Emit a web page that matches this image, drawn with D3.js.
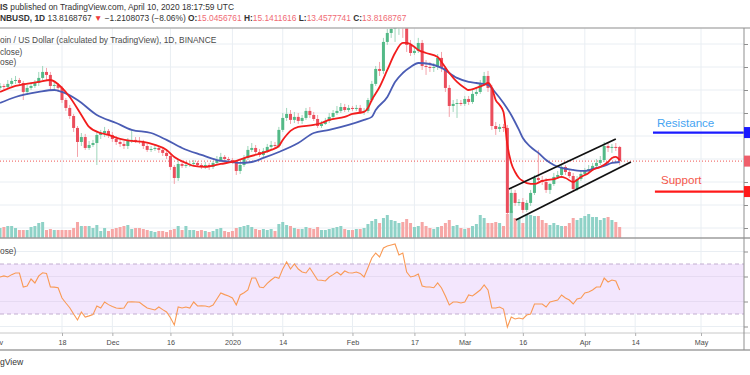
<!DOCTYPE html>
<html>
<head>
<meta charset="utf-8">
<script src="https://cdn.jsdelivr.net/npm/d3@7"></script>
<style>
  html, body { margin: 0; padding: 0; background: #fff; overflow: hidden; }
  svg { display: block; }
</style>
</head>
<body>
<svg id="chart" width="750" height="375"></svg>
<script>
// daily candles BNBUSD, day 0 = 2019-11-01
const open = [19.83,20.18,20.35,20.26,20.53,20.79,20.87,20.61,19.83,20.18,
  20.35,20.61,21.05,21.57,21.31,20.35,20.44,20.18,19.13,18.44,
  17.74,16.70,15.48,15.91,14.96,15.22,15.39,16.09,16.26,16.44,
  16.09,15.74,15.48,15.31,15.13,15.57,15.66,15.57,15.48,15.13,
  14.79,14.87,14.96,14.79,14.53,14.26,13.31,12.35,13.57,13.40,
  13.48,13.57,13.66,13.48,13.31,13.48,13.31,13.66,13.91,14.18,
  14.00,13.91,13.74,12.96,13.48,14.09,14.79,14.96,14.61,14.35,
  14.70,15.05,15.22,15.13,16.53,17.57,17.92,17.40,17.66,17.31,
  17.57,18.18,17.83,17.48,16.87,17.05,17.31,17.66,18.00,18.18,
  18.52,18.26,18.44,18.35,18.44,18.09,18.18,19.13,20.53,21.83,
  21.66,24.18,24.96,25.31,25.92,26.26,25.66,23.92,23.22,23.40,
  24.09,22.09,22.00,21.92,22.00,22.79,21.92,20.18,18.61,18.79,
  18.87,18.79,19.22,18.96,19.66,19.83,20.53,21.22,20.18,16.87,
  16.61,16.79,16.70,9.31,11.05,10.18,10.26,9.57,10.18,11.05,
  12.35,12.17,12.00,11.31,11.83,12.44,12.61,13.31,12.87,12.52,
  11.39,12.26,12.70,12.96,13.13,13.40,13.66,13.91,15.13,14.96,
  15.05,15.0456761];
const high = [20.44,20.61,20.53,20.87,21.05,21.22,21.05,20.79,20.44,20.70,
  20.87,21.57,22.09,21.92,21.57,20.70,20.61,20.35,19.31,18.70,
  17.92,16.87,16.26,16.18,15.57,15.66,16.35,16.53,16.79,16.61,
  16.35,16.00,15.66,15.57,15.83,16.53,15.91,15.91,15.66,15.31,
  15.13,15.22,15.13,14.96,14.70,14.44,13.48,13.91,13.74,13.74,
  13.83,13.91,13.83,13.66,13.74,13.66,13.83,14.26,14.53,14.35,
  14.18,14.09,13.91,13.66,14.35,15.13,15.39,15.22,14.87,14.96,
  15.31,15.57,15.48,16.79,18.00,18.44,18.26,18.09,18.00,17.83,
  18.44,18.52,18.09,17.83,17.31,17.57,18.00,18.26,18.61,18.87,
  18.79,18.70,18.61,18.70,18.70,18.44,19.31,20.79,22.09,22.44,
  24.53,25.31,26.09,26.79,27.13,26.96,26.53,24.35,23.83,24.53,
  24.35,22.61,22.44,22.35,23.13,23.31,22.09,20.44,19.13,19.22,
  19.13,19.48,19.48,20.00,20.18,20.87,21.57,21.66,20.44,17.22,
  17.05,17.05,16.96,11.48,11.31,10.52,10.61,10.44,11.31,12.61,
  14.79,12.52,12.35,11.91,12.79,12.96,13.57,13.48,13.13,12.79,
  12.52,12.96,13.22,13.48,13.66,14.00,14.26,15.48,15.48,15.31,
  15.39,15.1411616];
const low = [19.57,20.00,20.00,20.09,20.35,20.53,20.35,19.13,19.57,20.00,
  20.18,20.35,20.87,20.87,20.00,20.09,19.83,18.87,18.18,17.48,
  16.35,14.18,15.13,14.79,14.79,15.05,13.48,15.74,15.91,15.83,
  15.48,15.22,15.05,14.87,14.87,15.39,15.39,15.31,14.87,14.61,
  14.61,14.70,14.53,14.26,14.00,13.05,11.83,12.09,13.22,13.22,
  13.31,13.40,13.31,13.13,13.13,13.05,13.13,13.57,13.74,13.83,
  13.74,13.57,12.61,12.70,13.31,13.91,14.61,14.44,14.18,14.18,
  14.53,14.87,14.96,14.96,16.35,17.31,17.05,17.13,17.05,17.05,
  17.40,17.57,17.31,16.70,16.70,16.96,17.13,17.48,17.83,18.00,
  18.09,18.09,18.18,18.18,17.92,17.83,18.00,18.96,20.35,21.22,
  21.40,23.92,24.53,24.18,24.79,24.53,23.31,22.96,23.05,23.22,
  21.74,21.31,21.57,21.57,21.74,21.57,19.83,17.66,18.09,17.57,
  18.61,18.61,18.70,18.79,19.48,19.66,20.35,19.83,16.53,16.09,
  16.35,16.35,8.87,8.52,9.92,9.92,9.31,9.39,9.92,10.87,
  11.91,11.74,11.05,10.96,11.66,12.26,12.35,12.61,12.35,11.13,
  11.22,12.09,12.52,12.79,12.96,13.22,13.48,13.74,14.61,14.53,
  14.70,13.4577741];
const close = [20.18,20.35,20.26,20.53,20.79,20.87,20.61,19.83,20.18,20.35,
  20.61,21.05,21.57,21.31,20.35,20.44,20.18,19.13,18.44,17.74,
  16.70,15.48,15.91,14.96,15.22,15.39,16.09,16.26,16.44,16.09,
  15.74,15.48,15.31,15.13,15.57,15.66,15.57,15.48,15.13,14.79,
  14.87,14.96,14.79,14.53,14.26,13.31,12.35,13.57,13.40,13.48,
  13.57,13.66,13.48,13.31,13.48,13.31,13.66,13.91,14.18,14.00,
  13.91,13.74,12.96,13.48,14.09,14.79,14.96,14.61,14.35,14.70,
  15.05,15.22,15.13,16.53,17.57,17.92,17.40,17.66,17.31,17.57,
  18.18,17.83,17.48,16.87,17.05,17.31,17.66,18.00,18.18,18.52,
  18.26,18.44,18.35,18.44,18.09,18.18,19.13,20.53,21.83,21.66,
  24.18,24.96,25.31,25.92,26.26,25.66,23.92,23.22,23.40,24.09,
  22.09,22.00,21.92,22.00,22.79,21.92,20.18,18.61,18.79,18.87,
  18.79,19.22,18.96,19.66,19.83,20.53,21.22,20.18,16.87,16.61,
  16.79,16.70,9.31,11.05,10.18,10.26,9.57,10.18,11.05,12.35,
  12.17,12.00,11.31,11.83,12.44,12.61,13.31,12.87,12.52,11.39,
  12.26,12.70,12.96,13.13,13.40,13.66,13.91,15.13,14.96,15.05,
  14.96,13.8168767];
const volume = [9,10,11,12,12,10,8,8,8,11,
  12,15,16,8,9,8,8,8,8,8,
  10,16,12,12,12,10,13,7,10,7,
  9,10,11,12,13,9,10,10,9,8,
  7,6,7,7,6,8,9,12,8,12,
  8,8,7,8,7,6,7,9,10,7,
  6,7,10,11,12,13,11,9,8,9,
  8,9,7,14,16,13,12,10,9,9,
  11,10,9,11,8,8,9,10,11,12,
  9,8,8,9,9,10,14,17,19,15,
  20,23,18,17,15,16,19,15,11,12,
  16,12,10,9,11,12,15,18,12,13,
  10,9,10,12,14,23,20,15,15,16,
  15,12,24,27,20,20,15,23,23,22,
  22,18,15,13,15,13,12,12,15,20,
  18,20,22,24,21,21,18,20,21,18,
  16,11];
const rsi = [59,59.6,60.5,59.6,61.5,62.8,62.8,51.6,52.4,58,
  54.8,60.5,63,62.5,51.6,51.5,51,42.8,38.8,35,
  30,25.2,31.6,27.6,28.5,29.5,36.4,34.8,39.6,37.5,
  36,34.8,34.5,34.8,39.6,39.8,39.6,39.4,37,34.8,
  34,33.2,35.6,33.5,31.6,27,21.2,35.6,34.8,35.6,
  34.8,39.6,36.4,36.5,36.4,35.6,37.2,42,46.8,45.5,
  44.4,42.8,37.2,45.2,47,49.2,58.8,58.8,51.6,51,
  54.5,57.2,59.6,58.5,66,71.6,66,70,66,63.6,
  62.8,66.8,62,57.2,57,56.4,59.6,61.5,63.6,61.2,
  64.4,63,62.8,63.6,62.5,59.6,67,74.8,78.8,75.6,
  82.8,84.4,85.2,86,77.2,78.8,63.6,59.6,60.4,62,
  52.4,51.6,51.6,51,54.8,50.8,44.4,37.2,39.6,39.6,
  38.8,39.6,45.2,44.4,46.8,49.2,53.2,49.2,34.8,34.8,
  35.6,34,19.6,27.6,26,26.8,26,29.2,30,38,
  38,38,35.6,39.6,40.4,41.2,45.2,42.8,41.2,38,
  42,42.8,46.8,47.6,49.2,51.6,51.6,58.8,55.6,57.2,
  56.4,49.2];

// moving averages (day index, price)
const emaFastDays = [1,5,11,14,17,19,22,24,27,29,32,35,38,41,44,46,49,51,54,58,61,65,71,73,74,75,76,78,82,84,86,90,92,95,96,97,99,101,103,105,106,108,109,111,114,115,117,119,121,122,124,126,127,128,129,130,131,132,133,134,135,136,137,139,141,142,144,146,147,149,151,153,154,156,158,159,160,161];
const emaFastValues = [19.83,20.35,20.70,20.87,20.18,19.39,17.83,16.79,16.26,16.09,15.74,15.57,15.48,15.22,14.79,14.18,13.66,13.40,13.31,13.57,13.74,14.18,14.79,15.13,15.66,16.09,16.44,16.79,16.96,17.13,17.40,17.66,17.92,18.09,18.44,19.13,20.26,21.74,23.22,24.09,24.09,23.74,23.48,23.22,22.87,22.44,21.48,20.70,20.18,20.00,20.18,20.44,20.61,20.18,19.13,18.70,18.09,15.22,13.66,12.87,12.35,12.09,11.91,11.83,12.09,12.17,12.26,12.44,12.35,12.00,12.44,12.79,13.05,13.31,13.74,14.09,14.18,13.91];
const emaSlowDays = [1,5,11,15,17,21,26,31,35,40,44,48,53,57,61,63,66,69,73,78,82,86,91,95,97,98,101,103,105,107,109,112,115,119,122,124,127,129,131,133,135,136,138,140,142,144,146,149,152,154,157,159,161];
const emaSlowValues = [18.87,19.39,19.83,20.00,19.83,19.13,17.83,17.13,16.53,16.26,15.66,14.96,14.35,13.91,13.74,13.66,13.74,14.09,14.61,15.39,16.26,16.53,16.96,17.40,17.66,18.26,19.39,20.70,21.48,22.00,22.35,22.26,21.92,21.05,20.70,20.61,20.44,19.74,18.87,17.83,16.53,15.83,15.05,14.53,13.91,13.48,13.22,13.05,12.96,13.13,13.40,13.66,13.74];

// drawings (day index, price)
const channelUpper = [[132.4, 11.39], [160.0, 15.74]];
const channelLower = [[134.2, 8.70], [163.9, 13.74]];
const resistanceLevel = 16.30, resistanceFrom = 169.6;
const supportLevel = 11.17, supportFrom = 170.1;

const priceTicks = [8, 10, 12, 14, 16, 18, 20, 22, 24];
const rsiTicks = [20, 40, 60, 80];
const rsiBand = [30, 70];
const timeTickDates = ["2019-11-01","2019-11-18","2019-12-01","2019-12-16","2020-01-01","2020-01-14","2020-02-01","2020-02-17","2020-03-01","2020-03-16","2020-04-01","2020-04-14","2020-05-01"];
const timeTickLabels = ["Nov","18","Dec","16","2020","14","Feb","17","Mar","16","Apr","14","May"];

const day0 = Date.UTC(2019, 10, 1);
const dayDate = d => new Date(day0 + d * 864e5);

const axisX = 744;
const mainTop = 28, mainBottom = 238, rsiBottom = 333, timeBottom = 350;
const upColor = "#53b987", downColor = "#eb4d5c";
const gridColor = "#e9eef3";
const font = "'Liberation Sans', Arial, sans-serif";

const svg = d3.select("#chart");

const x = d3.scaleUtc()
    .domain([new Date(Date.UTC(2019, 10, 18)), new Date(Date.UTC(2020, 4, 1))])
    .range([62, 701]);
const y = d3.scaleLinear().domain([8, 24]).range([228, 44]);
const yVol = d3.scaleLinear().domain([0, 27]).range([mainBottom, mainBottom - 27]);
const yRsi = d3.scaleLinear().domain([30, 70]).range([314, 264]);

const defs = svg.append("defs");
defs.append("clipPath").attr("id", "clipMain")
    .append("rect").attr("x", 0).attr("y", mainTop).attr("width", axisX).attr("height", mainBottom - mainTop);
defs.append("clipPath").attr("id", "clipRsi")
    .append("rect").attr("x", 0).attr("y", mainBottom).attr("width", axisX).attr("height", rsiBottom - mainBottom);

// grid
const grid = svg.append("g");
timeTickDates.forEach(d => {
    grid.append("line")
        .attr("x1", x(new Date(d))).attr("x2", x(new Date(d)))
        .attr("y1", mainTop).attr("y2", rsiBottom)
        .attr("stroke", gridColor).attr("stroke-width", 1);
});
priceTicks.forEach(p => {
    grid.append("line").attr("x1", 0).attr("x2", axisX)
        .attr("y1", y(p)).attr("y2", y(p))
        .attr("stroke", gridColor).attr("stroke-width", 1);
});

// RSI background band
svg.append("rect")
    .attr("x", 0).attr("width", axisX)
    .attr("y", yRsi(rsiBand[1])).attr("height", yRsi(rsiBand[0]) - yRsi(rsiBand[1]))
    .attr("fill", "#f3e6fd");
rsiTicks.forEach(r => {
    svg.append("line").attr("x1", 0).attr("x2", axisX)
        .attr("y1", yRsi(r)).attr("y2", yRsi(r))
        .attr("stroke", r === 40 || r === 60 ? "#e6daf2" : gridColor).attr("stroke-width", 1);
});
rsiBand.forEach(r => {
    svg.append("line").attr("x1", 0).attr("x2", axisX)
        .attr("y1", yRsi(r)).attr("y2", yRsi(r))
        .attr("stroke", "#c2aed0").attr("stroke-width", 1)
        .attr("stroke-dasharray", "4,3");
});

const candles = close.map((c, i) => ({
    date: dayDate(i), o: open[i], h: high[i], l: low[i], c: c, v: volume[i], up: c >= open[i]
}));

const main = svg.append("g").attr("clip-path", "url(#clipMain)");

// volume
main.append("g").selectAll("rect")
    .data(candles)
    .join("rect")
    .attr("x", d => x(d.date) - 1.5)
    .attr("width", 3)
    .attr("y", d => yVol(d.v))
    .attr("height", d => yVol(0) - yVol(d.v))
    .attr("fill", d => d.up ? "#8fd2c7" : "#f6a7a6");

// last price line
const lastClose = close[close.length - 1];
main.append("line")
    .attr("x1", 0).attr("x2", axisX)
    .attr("y1", y(lastClose)).attr("y2", y(lastClose))
    .attr("stroke", "#ef5350").attr("stroke-width", 1)
    .attr("stroke-dasharray", "1,2");

// candles
const cg = main.append("g");
cg.selectAll("line")
    .data(candles)
    .join("line")
    .attr("x1", d => x(d.date)).attr("x2", d => x(d.date))
    .attr("y1", d => y(d.h)).attr("y2", d => y(d.l))
    .attr("stroke", d => d.up ? "#9fd6bb" : "#f4a3ab")
    .attr("stroke-width", 1);
cg.selectAll("rect")
    .data(candles)
    .join("rect")
    .attr("x", d => x(d.date) - 1.5)
    .attr("width", 3)
    .attr("y", d => y(Math.max(d.o, d.c)))
    .attr("height", d => Math.max(1, Math.abs(y(d.o) - y(d.c))))
    .attr("fill", d => d.up ? upColor : downColor);

// moving averages
const maLine = d3.line()
    .x(d => x(dayDate(d[0])))
    .y(d => y(d[1]))
    .curve(d3.curveMonotoneX);
main.append("path")
    .datum(emaSlowDays.map((d, i) => [d, emaSlowValues[i]]))
    .attr("fill", "none").attr("stroke", "#4a5cb4").attr("stroke-width", 1.8)
    .attr("d", maLine);
main.append("path")
    .datum(emaFastDays.map((d, i) => [d, emaFastValues[i]]))
    .attr("fill", "none").attr("stroke", "#f21d1d").attr("stroke-width", 1.8)
    .attr("d", maLine);

// channel drawings
const straight = d3.line().x(d => x(dayDate(d[0]))).y(d => y(d[1]));
[channelUpper, channelLower].forEach(ch => {
    main.append("path").datum(ch)
        .attr("fill", "none").attr("stroke", "#111").attr("stroke-width", 1.8)
        .attr("d", straight);
});

// support / resistance
main.append("line")
    .attr("x1", x(dayDate(resistanceFrom))).attr("x2", axisX)
    .attr("y1", y(resistanceLevel)).attr("y2", y(resistanceLevel))
    .attr("stroke", "#1a1aff").attr("stroke-width", 2.2);
main.append("line")
    .attr("x1", x(dayDate(supportFrom))).attr("x2", axisX)
    .attr("y1", y(supportLevel)).attr("y2", y(supportLevel))
    .attr("stroke", "#ff1a1a").attr("stroke-width", 2.2);
svg.append("text")
    .attr("x", x(dayDate(resistanceFrom)) + 4).attr("y", y(resistanceLevel) - 5.5)
    .attr("font-family", font).attr("font-size", 11.6).attr("fill", "#45a4f2")
    .text("Resistance");
svg.append("text")
    .attr("x", x(dayDate(supportFrom)) + 6).attr("y", y(supportLevel) - 7.5)
    .attr("font-family", font).attr("font-size", 11.6).attr("fill", "#f4584c")
    .text("Support");

// RSI line
const rsiLine = d3.line()
    .x((d, i) => x(dayDate(i)))
    .y(d => yRsi(d));
svg.append("g").attr("clip-path", "url(#clipRsi)")
    .append("path").datum(rsi)
    .attr("fill", "none").attr("stroke", "#f99a55").attr("stroke-width", 1.1)
    .attr("d", rsiLine);

// pane borders
const border = (x1, y1, x2, y2, c, w) => svg.append("line")
    .attr("x1", x1).attr("y1", y1).attr("x2", x2).attr("y2", y2)
    .attr("stroke", c).attr("stroke-width", w);
border(0, mainTop, 750, mainTop, "#b3b3b3", 1.6);
border(0, mainBottom, 750, mainBottom, "#9c9c9c", 1.4);
border(0, rsiBottom, 750, rsiBottom, "#c8c8c8", 1);
border(0, timeBottom, 750, timeBottom, "#a0a0a0", 1.4);
border(axisX, mainTop, axisX, timeBottom, "#8f8f8f", 1);

// right scales (labels fall outside the picture)
svg.append("g").attr("transform", `translate(${axisX},0)`)
    .call(d3.axisRight(y).tickValues(priceTicks).tickSize(4).tickFormat(""))
    .call(g => g.select(".domain").remove())
    .call(g => g.selectAll(".tick line").attr("stroke", "#8f8f8f"));
svg.append("g").attr("transform", `translate(${axisX},0)`)
    .call(d3.axisRight(yRsi).tickValues(rsiTicks).tickSize(4).tickFormat(""))
    .call(g => g.select(".domain").remove())
    .call(g => g.selectAll(".tick line").attr("stroke", "#8f8f8f"));

// price badges
const badge = (price, color) => svg.append("rect")
    .attr("x", axisX).attr("width", 8)
    .attr("y", y(price) - 5.5).attr("height", 11)
    .attr("fill", color);
badge(resistanceLevel, "#1a1aff");
badge(lastClose, "#ef5f6b");
badge(supportLevel, "#ff1a1a");

// time axis
svg.append("g").attr("transform", `translate(0,${rsiBottom})`)
    .call(d3.axisBottom(x)
        .tickValues(timeTickDates.map(d => new Date(d)))
        .tickFormat((d, i) => timeTickLabels[i])
        .tickSize(3).tickPadding(4))
    .call(g => g.select(".domain").remove())
    .call(g => g.selectAll(".tick line").attr("stroke", "#b0b0b0"))
    .call(g => g.selectAll(".tick text")
        .attr("font-family", font).attr("font-size", 7.2).attr("fill", "#4a4a4a"));

// header texts
const header = svg.append("g").attr("font-family", font).attr("font-size", 8.4).attr("fill", "#333");
const t1 = header.append("text").attr("x", 0).attr("y", 10);
t1.append("tspan").attr("font-weight", "bold").text("IS");
t1.append("tspan").text(" published on TradingView.com, April 10, 2020 18:17:59 UTC");

const t2 = header.append("text").attr("x", 0).attr("y", 20.5);
const red = "#ef6a74";
[["NBUSD, 1D", "bold", "#333"], [" 13.8168767 ", "normal", "#333"], ["▼", "normal", "#ef3b3b"],
 [" \u22121.2108073 (\u22128.06%) ", "normal", "#333"],
 ["O:", "bold", "#333"], ["15.0456761", "normal", red],
 [" H:", "bold", "#333"], ["15.1411616", "normal", red],
 [" L:", "bold", "#333"], ["13.4577741", "normal", red],
 [" C:", "bold", "#333"], ["13.8168767", "normal", red]]
    .forEach(([s, w, c]) => t2.append("tspan").attr("font-weight", w).attr("fill", c).text(s));

header.append("text").attr("x", 0).attr("y", 43).attr("fill", "#4a4a4a")
    .text("oin / US Dollar (calculated by TradingView), 1D, BINANCE");
header.append("text").attr("x", 0).attr("y", 55).attr("fill", "#4a4a4a").text("close)");
header.append("text").attr("x", 0).attr("y", 65).attr("fill", "#4a4a4a").text("ose)");
header.append("text").attr("x", 0).attr("y", 254).attr("fill", "#4a4a4a").text("ose)");
header.append("text").attr("x", 0).attr("y", 365).attr("fill", "#333").attr("font-size", 8.6).text("gView");
</script>
</body>
</html>
